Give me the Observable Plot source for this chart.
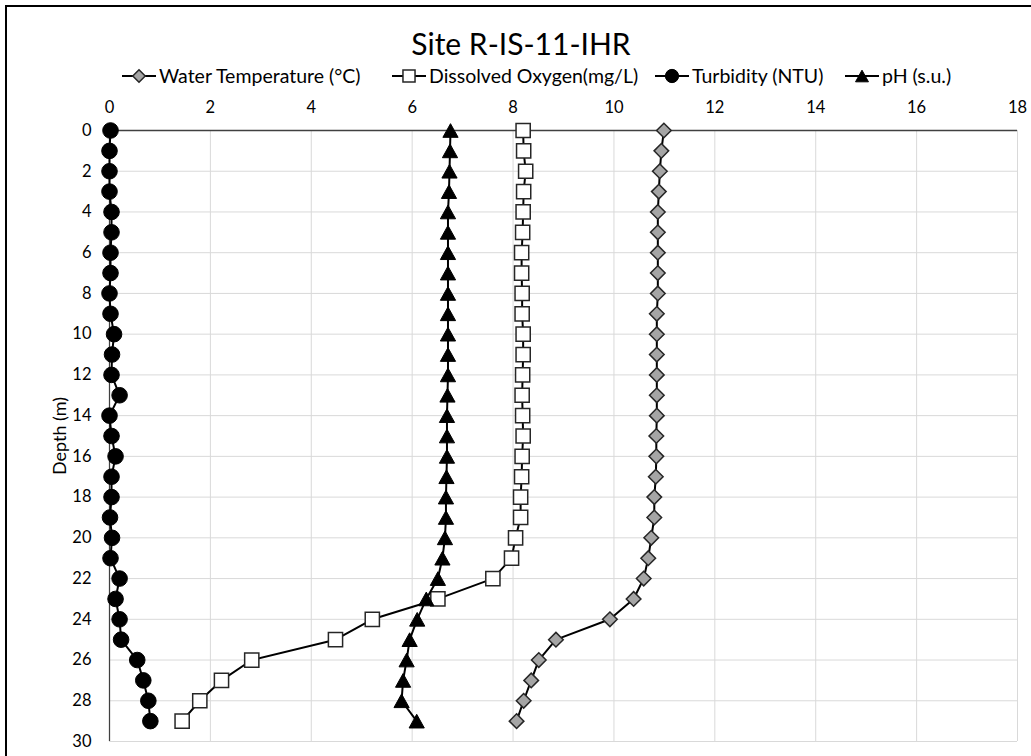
<!DOCTYPE html>
<html>
<head>
<meta charset="utf-8">
<script src="https://cdn.jsdelivr.net/npm/d3@7"></script>
<script src="https://cdn.jsdelivr.net/npm/@observablehq/plot@0.6"></script>
<style>
  html, body { margin: 0; padding: 0; background: #fff; overflow: hidden; }
  #page { position: relative; width: 1031px; height: 756px; overflow: hidden; font-family: Lato, "Open Sans", sans-serif; color: #000; }
  #frame { position: absolute; left: 5px; top: 5px; width: 1100px; height: 820px; border-top: 2px solid #000; border-left: 2px solid #000; box-sizing: border-box; }
  #title { position: absolute; left: 0; top: 25px; width: 1042px; text-align: center; font-size: 30px; line-height: 36px; }
  .legend-item { position: absolute; top: 66px; height: 20px; display: flex; align-items: center; font-size: 19.5px; line-height: 20px; white-space: nowrap; }
  .legend-item svg { margin-right: 3px; overflow: visible; }
  #ylabel { position: absolute; left: 59px; top: 436px; transform: translate(-50%, -50%) rotate(-90deg); font-size: 18px; line-height: 20px; white-space: nowrap; }
  #chart { position: absolute; left: 0; top: 88px; }
  #chart svg text { font-size: 16.5px; fill: #000; }
</style>
</head>
<body>
<div id="page">
  <div id="frame"></div>
  <div id="title">Site R-IS-11-IHR</div>
  <div id="legend"></div>
  <div id="ylabel">Depth (m)</div>
  <div id="chart"></div>
</div>
<script>
// Profile readings, one per metre of depth
const depth = [0, 1, 2, 3, 4, 5, 6, 7, 8, 9, 10, 11, 12, 13, 14, 15, 16, 17, 18, 19, 20, 21, 22, 23, 24, 25, 26, 27, 28, 29];
const waterTemperature = [10.99, 10.94, 10.91, 10.89, 10.87, 10.87, 10.87, 10.87, 10.87, 10.85, 10.85, 10.85, 10.85, 10.85, 10.85, 10.84, 10.84, 10.83, 10.80, 10.80, 10.74, 10.68, 10.59, 10.39, 9.92, 8.85, 8.51, 8.36, 8.21, 8.07];
const dissolvedOxygen = [8.20, 8.21, 8.25, 8.21, 8.20, 8.19, 8.17, 8.17, 8.18, 8.18, 8.20, 8.20, 8.19, 8.18, 8.19, 8.20, 8.18, 8.17, 8.15, 8.15, 8.05, 7.97, 7.60, 6.51, 5.21, 4.48, 2.82, 2.22, 1.79, 1.44];
const turbidity = [0.02, 0.0, 0.0, 0.0, 0.04, 0.04, 0.02, 0.02, 0.0, 0.02, 0.09, 0.05, 0.04, 0.20, 0.0, 0.04, 0.12, 0.04, 0.04, 0.01, 0.05, 0.02, 0.20, 0.12, 0.20, 0.23, 0.55, 0.67, 0.77, 0.81];
const pH = [6.76, 6.75, 6.74, 6.73, 6.71, 6.71, 6.71, 6.71, 6.71, 6.71, 6.71, 6.71, 6.71, 6.70, 6.69, 6.69, 6.69, 6.68, 6.67, 6.67, 6.65, 6.60, 6.51, 6.28, 6.10, 5.95, 5.89, 5.82, 5.79, 6.09];

const xTicks = [0, 2, 4, 6, 8, 10, 12, 14, 16, 18];
const yTicks = [0, 2, 4, 6, 8, 10, 12, 14, 16, 18, 20, 22, 24, 26, 28, 30];

// Marker shapes; r is the half-extent of each shape
const half = (size) => Math.sqrt(size / Math.PI);
const diamond = {draw(ctx, size) { const r = half(size); ctx.moveTo(0, -r); ctx.lineTo(r, 0); ctx.lineTo(0, r); ctx.lineTo(-r, 0); ctx.closePath(); }};
const square = {draw(ctx, size) { const r = half(size); ctx.rect(-r, -r, 2 * r, 2 * r); }};
const circle = {draw(ctx, size) { const r = half(size); ctx.moveTo(r, 0); ctx.arc(0, 0, r, 0, 2 * Math.PI); }};
const triangle = {draw(ctx, size) { const r = half(size), h = 0.9 * r; ctx.moveTo(0, -h); ctx.lineTo(r, h); ctx.lineTo(-r, h); ctx.closePath(); }};

const series = [
  {name: "Water Temperature (°C)", values: waterTemperature, symbol: diamond, r: 7.3, fill: "#a5a5a5", stroke: "#262626", strokeWidth: 1.5, legendLeft: 122},
  {name: "Dissolved Oxygen(mg/L)", values: dissolvedOxygen, symbol: square, r: 7.1, fill: "#ffffff", stroke: "#262626", strokeWidth: 1.5, legendLeft: 392},
  {name: "Turbidity (NTU)", values: turbidity, symbol: circle, r: 7.8, fill: "#000000", stroke: "#000000", strokeWidth: 1, legendLeft: 655},
  {name: "pH (s.u.)", values: pH, symbol: triangle, r: 7.6, fill: "#000000", stroke: "#000000", strokeWidth: 1, legendLeft: 845}
];

const marks = [
  Plot.ruleX(xTicks.slice(1), {stroke: "#d9d9d9", strokeWidth: 1}),
  Plot.ruleY(yTicks.slice(1), {stroke: "#d9d9d9", strokeWidth: 1}),
  Plot.ruleY([0], {stroke: "#404040", strokeWidth: 1.5}),
  Plot.ruleX([0], {stroke: "#404040", strokeWidth: 1.25})
];
for (const s of series) {
  const rows = depth.map((d, i) => ({depth: d, value: s.values[i]}));
  marks.push(Plot.line(rows, {x: "value", y: "depth", stroke: "#000", strokeWidth: 2}));
  marks.push(Plot.dot(rows, {x: "value", y: "depth", symbol: s.symbol, r: s.r, fill: s.fill, stroke: s.stroke, strokeWidth: s.strokeWidth}));
}

const chart = Plot.plot({
  width: 1031,
  height: 668,
  marginLeft: 109,
  marginRight: 14,
  marginTop: 42,
  marginBottom: 15,
  style: {fontFamily: "Lato, 'Open Sans', sans-serif", fontSize: "16.5px", color: "#000", background: "transparent", overflow: "visible"},
  x: {domain: [0, 18], ticks: xTicks, axis: "top", tickSize: 0, tickPadding: 18, label: null},
  y: {domain: [0, 30], reverse: true, ticks: yTicks, tickSize: 0, tickPadding: 18, label: null},
  marks
});
document.getElementById("chart").appendChild(chart);

// Legend row above the plot
const legend = document.getElementById("legend");
for (const s of series) {
  const item = document.createElement("div");
  item.className = "legend-item";
  item.style.left = s.legendLeft + "px";
  const svg = d3.create("svg").attr("width", 34).attr("height", 20);
  svg.append("line").attr("x1", 0).attr("x2", 34).attr("y1", 10).attr("y2", 10).attr("stroke", "#000").attr("stroke-width", 2);
  const lr = s.r * 0.85;
  svg.append("path")
    .attr("transform", "translate(17,10)")
    .attr("d", d3.symbol().type(s.symbol).size(Math.PI * lr * lr)())
    .attr("fill", s.fill).attr("stroke", s.stroke).attr("stroke-width", s.strokeWidth);
  item.appendChild(svg.node());
  const label = document.createElement("span");
  label.textContent = s.name;
  item.appendChild(label);
  legend.appendChild(item);
}
</script>
</body>
</html>
